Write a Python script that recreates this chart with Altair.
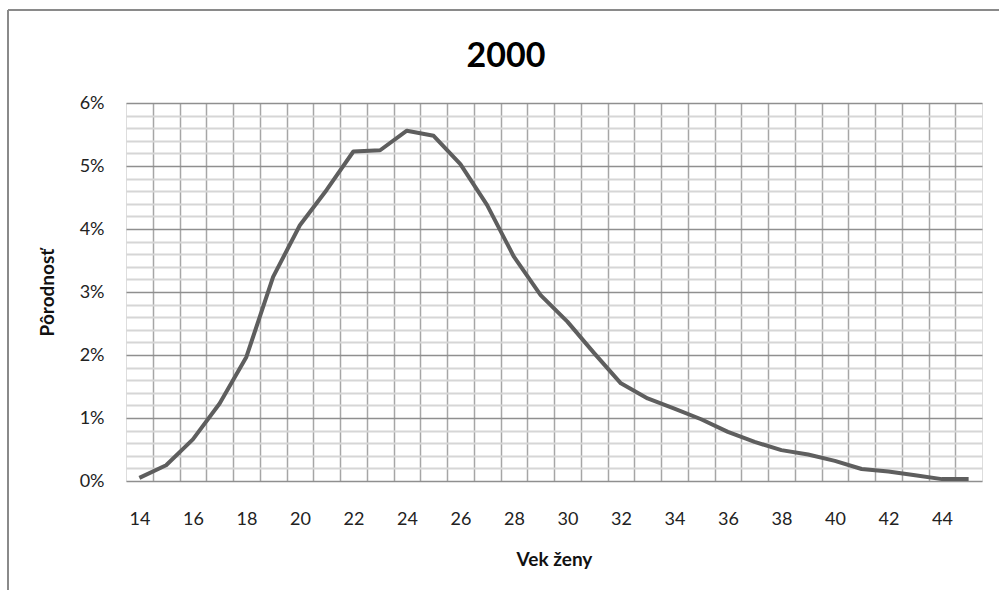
import altair as alt
import pandas as pd

ages = list(range(14, 46))
rates = [0.0005, 0.0025, 0.0066, 0.0123, 0.0197, 0.0324, 0.0406, 0.0462, 0.0523, 0.0525,
         0.0556, 0.0548, 0.0503, 0.0438, 0.0356, 0.0295, 0.0253, 0.0203, 0.0155, 0.0131,
         0.0115, 0.0098, 0.0078, 0.0062, 0.0049, 0.0042, 0.0032, 0.0019, 0.0015, 0.0009,
         0.0003, 0.0003]
x_labels = list(range(14, 45, 2))
x_grid = [a + 0.5 for a in range(14, 45)]
y_major = [0, 0.01, 0.02, 0.03, 0.04, 0.05, 0.06]
y_minor = [round(i * 0.002, 3) for i in range(31) if i % 5 != 0]
chart_title = "2000"

df = pd.DataFrame({"age": ages, "rate": rates})

FONT = "Lato"
xscale = alt.Scale(domain=[13.5, 45.5], nice=False, zero=False)
yscale = alt.Scale(domain=[0, 0.06], nice=False)

base = alt.Chart(df)

minor = base.mark_line(opacity=0).encode(
    x=alt.X("age:Q", scale=xscale,
            axis=alt.Axis(values=x_grid, grid=True, gridColor="#a6a6a6", gridWidth=1.5,
                          labels=False, ticks=False, domain=False, title=None, orient="top")),
    y=alt.Y("rate:Q", scale=yscale,
            axis=alt.Axis(values=y_minor, grid=True, gridColor="#d6d6d6", gridWidth=2,
                          labels=False, ticks=False, domain=False, title=None, orient="right")),
)

major = base.mark_line(color="#5e5e5e", strokeWidth=4, strokeJoin="round").encode(
    x=alt.X("age:Q", scale=xscale,
            axis=alt.Axis(values=x_labels, grid=False, ticks=False, tickSize=0, domain=False,
                          labelPadding=29, labelFontSize=18, labelFont=FONT, labelColor="#222222",
                          title="Vek ženy", titleFont=FONT, titleFontSize=19, titleFontWeight="bold",
                          titleColor="#111111", titlePadding=22)),
    y=alt.Y("rate:Q", scale=yscale,
            axis=alt.Axis(values=y_major, format=".0%", grid=True, gridColor="#8f8f8f", gridWidth=1.5,
                          ticks=False, tickSize=0, domain=False,
                          labelPadding=22, labelFontSize=18, labelFont=FONT, labelColor="#222222",
                          title="Pôrodnosť", titleFont=FONT, titleFontSize=19, titleFontWeight="bold",
                          titleColor="#111111", titlePadding=22)),
)

title_layer = alt.Chart(pd.DataFrame({"t": [chart_title]})).mark_text(
    font=FONT, fontSize=34, fontWeight="bold", color="#000000", baseline="middle", align="center",
    clip=False
).encode(text="t:N", x=alt.value(380), y=alt.value(-46))

frame_left = alt.Chart(df).mark_rule(color="#8a8a8a", strokeWidth=2, clip=False).encode(
    x=alt.value(-118), y=alt.value(-93), y2=alt.value(487))
frame_top = alt.Chart(df).mark_rule(color="#8a8a8a", strokeWidth=2, clip=False).encode(
    x=alt.value(-118), x2=alt.value(873), y=alt.value(-93))

chart = alt.layer(minor, major, title_layer, frame_left, frame_top).resolve_axis(
    x="independent", y="independent"
).properties(
    width=856, height=378,
    padding={"left": 126, "top": 103, "right": 17, "bottom": 109},
    autosize=alt.AutoSizeParams(type="none"),
).configure_view(stroke="#a0a0a0", strokeWidth=1.5).configure(background="white")

chart.save("out.html", embed_options={"renderer": "svg", "actions": False})
